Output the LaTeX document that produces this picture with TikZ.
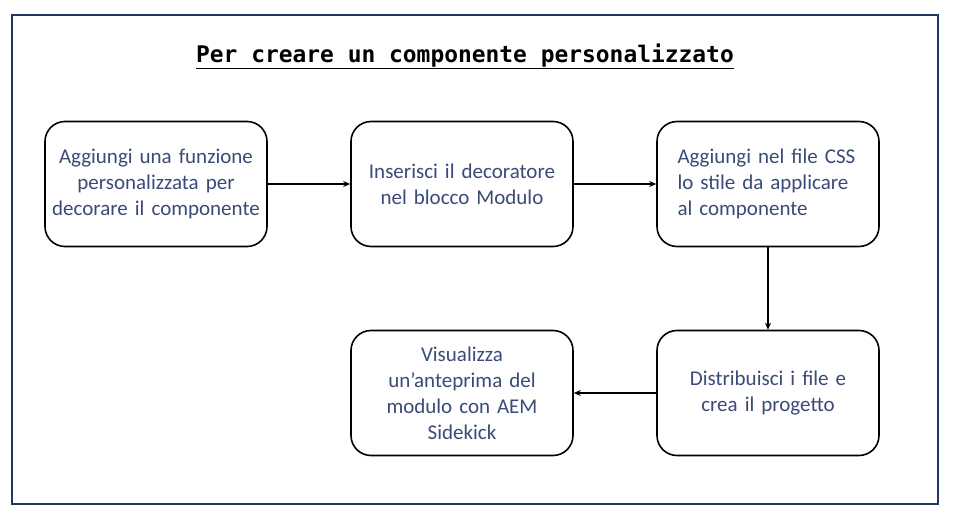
\documentclass[tikz,border=0pt]{standalone}
\usepackage{fontspec}
\setmainfont{Carlito}
\newfontfamily\titlefont{DejaVu Sans Mono}
\usetikzlibrary{arrows.meta}
\definecolor{framecol}{HTML}{1F3864}
\definecolor{txtcol}{HTML}{3B4B78}
\tikzset{
  stepbox/.style={draw=black, line width=1.6pt, rounded corners=20pt, fill=white,
    minimum width=222pt, minimum height=125pt, text=txtcol,
    font=\fontsize{21}{26}\selectfont},
  ctrbox/.style={stepbox, align=center, text width=214pt, inner xsep=4pt},
  leftbox/.style={stepbox, align=left, text width=181pt, inner xsep=20.5pt},
  conn/.style={draw=black, line width=1.3pt, -{Stealth[length=7pt,width=6pt]}}
}
\begin{document}
\begin{tikzpicture}[x=1pt,y=-1pt]
\useasboundingbox (0,0) rectangle (962,530);
\fill[white] (0,0) rectangle (962,530);
\draw[framecol, line width=1.4pt] (12,15) rectangle (938,504);
\node[font=\titlefont\bfseries\fontsize{22.9}{26}\selectfont, anchor=base, inner sep=0pt] (title) at (465,62) {\underline{Per creare un componente personalizzato}};
\node[ctrbox] (b1) at (156,184) {Aggiungi una funzione\\personalizzata per\\decorare il componente};
\node[ctrbox] (b2) at (462,184) {Inserisci il decoratore\\nel blocco Modulo};
\node[leftbox] (b3) at (768,184) {Aggiungi nel file CSS\\lo stile da applicare\\al componente};
\node[ctrbox] (b4) at (768,393) {Distribuisci i file e\\crea il progetto};
\node[ctrbox] (b5) at (462,393) {Visualizza\\un’anteprima del\\modulo con AEM\\Sidekick};
\draw[conn] (b1) -- (b2);
\draw[conn] (b2) -- (b3);
\draw[conn] (b3) -- (b4);
\draw[conn] (b4) -- (b5);
\end{tikzpicture}
\end{document}
